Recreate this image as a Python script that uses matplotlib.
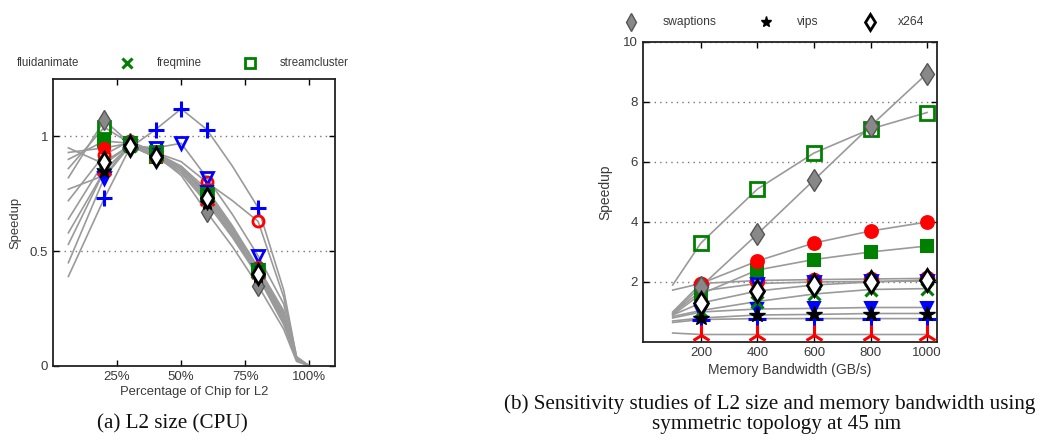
import matplotlib
matplotlib.use("Agg")
import matplotlib.pyplot as plt
from matplotlib.lines import Line2D

plt.rcParams['font.family'] = ['Liberation Sans', 'DejaVu Sans']

W, H = 1045, 446

# benchmarks and their marker styles
names = ['blackscholes', 'bodytrack', 'canneal', 'dedup', 'facesim', 'ferret',
         'fluidanimate', 'freqmine', 'streamcluster', 'swaptions', 'vips', 'x264']

styles = {
    'blackscholes': dict(marker='+', color='#0000ff', mfc='none', ms=11, mew=2.2),
    'bodytrack': dict(marker='o', color='#ff0000', mfc='none', ms=8, mew=2),
    'canneal': dict(marker='v', color='#0000ff', mfc='none', ms=8, mew=2),
    'dedup': dict(marker='s', color='#008000', mfc='#008000', ms=8, mew=1.5),
    'facesim': dict(marker='o', color='#ff0000', mfc='#ff0000', ms=8, mew=1.5),
    'ferret': dict(marker='v', color='#0000ff', mfc='#0000ff', ms=8, mew=1.5),
    'fluidanimate': dict(marker='2', color='#ff0000', mfc='none', ms=12, mew=2.2),
    'freqmine': dict(marker='x', color='#008000', mfc='none', ms=8, mew=2.2),
    'streamcluster': dict(marker='s', color='#008000', mfc='none', ms=9, mew=2),
    'swaptions': dict(marker='d', color='#555555', mfc='#888888', ms=10, mew=1),
    'vips': dict(marker='*', color='#000000', mfc='#000000', ms=10, mew=1),
    'x264': dict(marker='d', color='#000000', mfc='#ffffff', ms=10, mew=2),
}

# (a) L2 size: percentage of chip for L2
l2_pct = [6, 20, 30, 40, 50, 60, 70, 80, 90, 95, 100]
l2_speedup = {
    'blackscholes': [0.39, 0.73, 0.95, 1.03, 1.12, 1.03, 0.87, 0.69, 0.33, 0.04, 0.0],
    'bodytrack': [0.72, 0.92, 0.98, 0.93, 0.89, 0.80, 0.72, 0.63, 0.30, 0.04, 0.0],
    'canneal': [0.45, 0.82, 0.96, 0.95, 0.97, 0.82, 0.66, 0.48, 0.27, 0.03, 0.0],
    'dedup': [0.90, 0.98, 0.97, 0.91, 0.86, 0.75, 0.60, 0.42, 0.22, 0.03, 0.0],
    'facesim': [0.93, 0.95, 0.97, 0.92, 0.87, 0.77, 0.61, 0.43, 0.24, 0.03, 0.0],
    'ferret': [0.77, 0.83, 0.96, 0.92, 0.86, 0.76, 0.60, 0.42, 0.23, 0.03, 0.0],
    'fluidanimate': [0.53, 0.85, 0.96, 0.91, 0.85, 0.72, 0.57, 0.40, 0.20, 0.03, 0.0],
    'freqmine': [0.95, 0.88, 0.96, 0.92, 0.86, 0.74, 0.58, 0.41, 0.21, 0.03, 0.0],
    'streamcluster': [0.86, 1.04, 0.97, 0.93, 0.87, 0.75, 0.59, 0.42, 0.20, 0.03, 0.0],
    'swaptions': [0.82, 1.07, 0.97, 0.92, 0.83, 0.67, 0.52, 0.35, 0.16, 0.02, 0.0],
    'vips': [0.58, 0.85, 0.96, 0.91, 0.84, 0.71, 0.56, 0.39, 0.18, 0.03, 0.0],
    'x264': [0.64, 0.89, 0.96, 0.91, 0.85, 0.73, 0.57, 0.40, 0.19, 0.03, 0.0],
}
l2_marks = [1, 2, 3, 5, 7]
l2_marks_extra = [1, 2, 3, 4, 5, 7]

# (b) memory bandwidth
bw = [100, 200, 400, 600, 800, 1000]
bw_speedup = {
    'blackscholes': [0.65, 0.75, 0.78, 0.78, 0.78, 0.78],
    'bodytrack': [1.73, 1.95, 2.05, 2.08, 2.10, 2.12],
    'canneal': [0.95, 1.70, 1.95, 2.00, 2.02, 2.03],
    'dedup': [0.90, 1.60, 2.40, 2.75, 3.00, 3.20],
    'facesim': [1.00, 1.95, 2.70, 3.30, 3.70, 4.00],
    'ferret': [0.80, 1.00, 1.10, 1.12, 1.15, 1.15],
    'fluidanimate': [0.30, 0.25, 0.25, 0.25, 0.25, 0.25],
    'freqmine': [0.85, 1.05, 1.35, 1.60, 1.75, 1.78],
    'streamcluster': [1.90, 3.30, 5.10, 6.30, 7.10, 7.65],
    'swaptions': [0.95, 1.85, 3.60, 5.40, 7.20, 8.95],
    'vips': [0.70, 0.80, 0.90, 0.92, 0.95, 0.95],
    'x264': [0.90, 1.30, 1.70, 1.90, 2.00, 2.07],
}
bw_marks = [1, 2, 3, 4, 5]

txt = '#3a3a3a'
line_col = '#9a9a9a'

fig = plt.figure(figsize=(W / 100, H / 100), dpi=100)


def px_axes(l, t, r, b):
    return fig.add_axes([l / W, 1 - b / H, (r - l) / W, (b - t) / H])


def style_axes(ax, fs):
    ax.tick_params(direction='in', top=True, right=True, length=4, width=1,
                   labelsize=fs, labelcolor=txt)
    for s in ax.spines.values():
        s.set_linewidth(1.3)
        s.set_color('#222222')
    ax.yaxis.grid(True, linestyle=(0, (1, 3)), color='#777777', linewidth=1)
    ax.set_axisbelow(True)


# ---- left panel ----
ax1 = px_axes(53, 79, 335, 366)
for n in names:
    ax1.plot(l2_pct, l2_speedup[n], color=line_col, lw=1.2, zorder=2)
for n in names:
    st = styles[n]
    me = l2_marks_extra if n in ('blackscholes', 'canneal') else l2_marks
    ax1.plot([l2_pct[i] for i in me], [l2_speedup[n][i] for i in me],
             linestyle='none', zorder=3, **st)
ax1.set_xlim(0, 110)
ax1.set_ylim(0, 1.25)
ax1.set_xticks([25, 50, 75, 100])
ax1.set_xticklabels(['25%', '50%', '75%', '100%'])
ax1.set_yticks([0, 0.5, 1])
ax1.set_yticklabels(['0', '0.5', '1'])
style_axes(ax1, 9.5)
ax1.set_xlabel('Percentage of Chip for L2', fontsize=9.4, color=txt, labelpad=2)
ax1.set_ylabel('Speedup', fontsize=9.4, color=txt, labelpad=6)

# ---- right panel ----
ax2 = px_axes(643, 42, 937, 342)
for n in names:
    ax2.plot(bw, bw_speedup[n], color=line_col, lw=1.2, zorder=2)
for n in names:
    st = dict(styles[n])
    st['ms'] = st['ms'] * 1.15
    ax2.plot([bw[i] for i in bw_marks], [bw_speedup[n][i] for i in bw_marks],
             linestyle='none', zorder=3, **st)
ax2.set_xlim(-5, 1035)
ax2.set_ylim(0, 10)
ax2.set_xticks([200, 400, 600, 800, 1000])
ax2.set_yticks([2, 4, 6, 8, 10])
style_axes(ax2, 9.5)
ax2.set_xlabel('Memory Bandwidth (GB/s)', fontsize=10, color=txt, labelpad=3)
ax2.set_ylabel('Speedup', fontsize=10, color=txt, labelpad=8)


# ---- legends (visible row of the shared key) ----
def key_mark(x, y, name, scale=1.0):
    st = dict(styles[name])
    st['ms'] = st['ms'] * scale
    fig.add_artist(Line2D([x / W], [1 - y / H], transform=fig.transFigure,
                          linestyle='none', **st))


def key_text(x, y, s, fs):
    fig.text(x / W, 1 - y / H, s, fontsize=fs, color=txt, ha='left', va='center')


key_text(17, 63, 'fluidanimate', 8.3)
key_mark(127, 63, 'freqmine', 0.9)
key_text(157, 63, 'freqmine', 8.3)
key_mark(250, 63, 'streamcluster', 0.85)
key_text(280, 63, 'streamcluster', 8.3)

key_mark(631, 22, 'swaptions', 0.9)
key_text(663, 22, 'swaptions', 8.7)
key_mark(766, 22, 'vips', 0.8)
key_text(797, 22, 'vips', 8.7)
key_mark(870, 22, 'x264', 0.85)
key_text(898, 22, 'x264', 8.7)

# ---- captions ----
cap = dict(family=['Liberation Serif', 'DejaVu Serif'], fontsize=15.2,
           color='#111111', ha='center', va='center')
fig.text(172 / W, 1 - 424 / H, '(a) L2 size (CPU)', **cap)
fig.text(770 / W, 1 - 404 / H,
         '(b) Sensitivity studies of L2 size and memory bandwidth using', **cap)
fig.text(777 / W, 1 - 425 / H, 'symmetric topology at 45 nm', **cap)

fig.savefig('out.png', dpi=100)
